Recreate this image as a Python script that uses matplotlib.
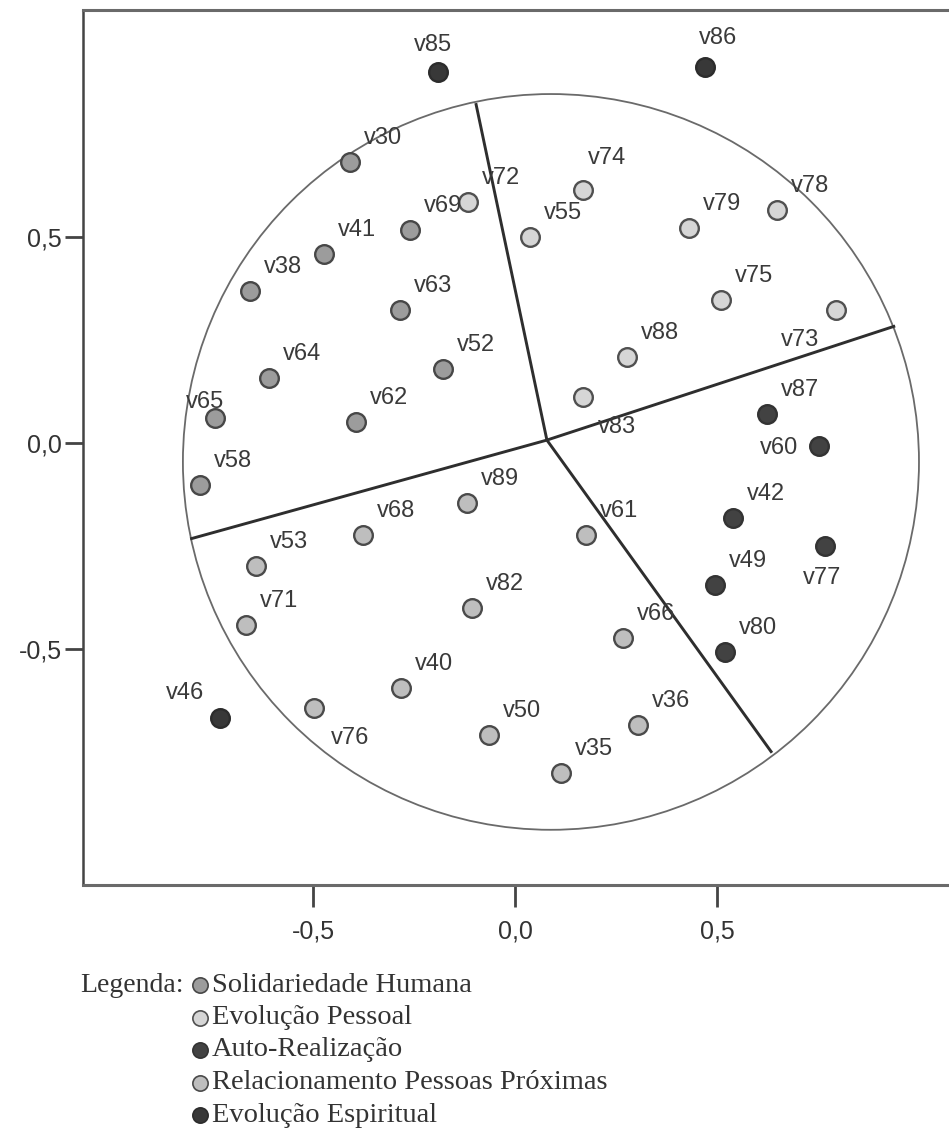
import matplotlib.pyplot as plt
from matplotlib.patches import Ellipse
from matplotlib.lines import Line2D

plt.rcParams['font.family'] = ['Liberation Sans', 'DejaVu Sans']

# itens e coordenadas nas duas dimensões
rotulos = ['v85', 'v86', 'v30', 'v72', 'v69', 'v41', 'v38', 'v55', 'v74', 'v79',
           'v78', 'v75', 'v73', 'v63', 'v88', 'v52', 'v64', 'v83', 'v62', 'v65',
           'v87', 'v60', 'v58', 'v68', 'v53', 'v71', 'v46', 'v76', 'v40', 'v89',
           'v61', 'v82', 'v66', 'v50', 'v36', 'v35', 'v42', 'v77', 'v49', 'v80']
dim1 = [-0.191, 0.470, -0.408, -0.116, -0.260, -0.473, -0.656, 0.037, 0.168, 0.431,
        0.649, 0.510, 0.795, -0.285, 0.277, -0.178, -0.609, 0.168, -0.394, -0.743,
        0.624, 0.752, -0.780, -0.376, -0.641, -0.666, -0.730, -0.498, -0.282, -0.119,
        0.176, -0.106, 0.267, -0.064, 0.304, 0.114, 0.540, 0.767, 0.495, 0.520]
dim2 = [0.900, 0.913, 0.682, 0.585, 0.517, 0.459, 0.369, 0.500, 0.614, 0.522,
        0.566, 0.347, 0.323, 0.323, 0.209, 0.180, 0.158, 0.112, 0.051, 0.061,
        0.070, -0.007, -0.102, -0.223, -0.299, -0.442, -0.667, -0.643, -0.595, -0.146,
        -0.223, -0.400, -0.473, -0.709, -0.684, -0.801, -0.182, -0.250, -0.345, -0.507]
# 0 Solidariedade, 1 Evol. Pessoal, 2 Auto-Realização, 3 Relacionamento, 4 Evol. Espiritual
grupo = [4, 4, 0, 1, 0, 0, 0, 1, 1, 1,
         1, 1, 1, 0, 1, 0, 0, 1, 0, 0,
         2, 2, 0, 3, 3, 3, 4, 3, 3, 3,
         3, 3, 3, 3, 3, 3, 2, 2, 2, 2]

categorias = ['Solidariedade Humana', 'Evolução Pessoal', 'Auto-Realização',
              'Relacionamento Pessoas Próximas', 'Evolução Espiritual']

# fronteiras das regiões (partem do ponto central)
centro_x, centro_y = 0.079, 0.007
fronteira_x = [-0.097, 0.941, 0.636, -0.804]
fronteira_y = [0.825, 0.284, -0.752, -0.233]

# círculo
circ_x, circ_y = 0.089, -0.046
circ_rx, circ_ry = 0.911, 0.893

ticks = [-0.5, 0.0, 0.5]

# estilo
cores = ['#9c9c9c', '#d6d6d6', '#424242', '#bebebe', '#383838']
bordas = ['#474747', '#505050', '#333333', '#4a4a4a', '#2c2c2c']
desloc_padrao = (33, 24)
desloc = {'v85': (-5, 27), 'v86': (13, 29), 'v74': (24, 32), 'v83': (34, -30),
          'v73': (-36, -30), 'v60': (-40, -2), 'v77': (-3, -32), 'v65': (-10, 16),
          'v46': (-35, 25), 'v76': (36, -30)}

W, H = 949, 1129
fig = plt.figure(figsize=(W / 100, H / 100), dpi=100)
ax = fig.add_axes([83 / W, 1 - 885 / H, (W - 83) / W, (885 - 10) / H])
ax.set_xlim(-1.0693, 1.0743)
ax.set_ylim(-1.073, 1.051)

ax.add_patch(Ellipse((circ_x, circ_y), 2 * circ_rx, 2 * circ_ry,
                     fill=False, ec='#6a6a6a', lw=1.3))
for fx, fy in zip(fronteira_x, fronteira_y):
    ax.plot([centro_x, fx], [centro_y, fy], color='#2e2e2e', lw=2.1,
            solid_capstyle='butt')

for g in range(len(categorias)):
    xs = [x for x, k in zip(dim1, grupo) if k == g]
    ys = [y for y, k in zip(dim2, grupo) if k == g]
    ax.scatter(xs, ys, s=180, c=cores[g], edgecolors=bordas[g],
               linewidths=1.7, zorder=3)

for r, x, y in zip(rotulos, dim1, dim2):
    ax.annotate(r, (x, y), xytext=desloc.get(r, desloc_padrao),
                textcoords='offset pixels', ha='center', va='center',
                fontsize=17, color='#3a3a3a', zorder=4)

rot_ticks = [f"{t:.1f}".replace('.', ',') for t in ticks]
ax.set_xticks(ticks, rot_ticks)
ax.set_yticks(ticks, rot_ticks)
ax.tick_params(axis='x', length=16, width=2, pad=9, labelsize=18,
               color='#444444', labelcolor='#333333')
ax.tick_params(axis='y', length=13, width=2, pad=2, labelsize=18,
               color='#444444', labelcolor='#333333')
ax.spines['right'].set_visible(False)
ax.spines['left'].set_color('#444444')
ax.spines['left'].set_linewidth(1.8)
for s in ['top', 'bottom']:
    ax.spines[s].set_color('#6a6a6a')
    ax.spines[s].set_linewidth(2.2)

# legenda
serif = ['Liberation Serif', 'DejaVu Serif']
y0, passo = 985, 32.5
fig.text(80 / W, 1 - y0 / H, 'Legenda:', family=serif, fontsize=20,
         color='#333333', va='center', ha='left')
for i, nome in enumerate(categorias):
    yy = 1 - (y0 + i * passo) / H
    fig.add_artist(Line2D([200 / W], [yy], transform=fig.transFigure,
                          marker='o', ms=11, mfc=cores[i], mec=bordas[i],
                          mew=1.2, ls='none'))
    fig.text(212 / W, yy, nome, family=serif, fontsize=20.5, color='#333333',
             va='center', ha='left')

fig.savefig('out.png', dpi=100)
